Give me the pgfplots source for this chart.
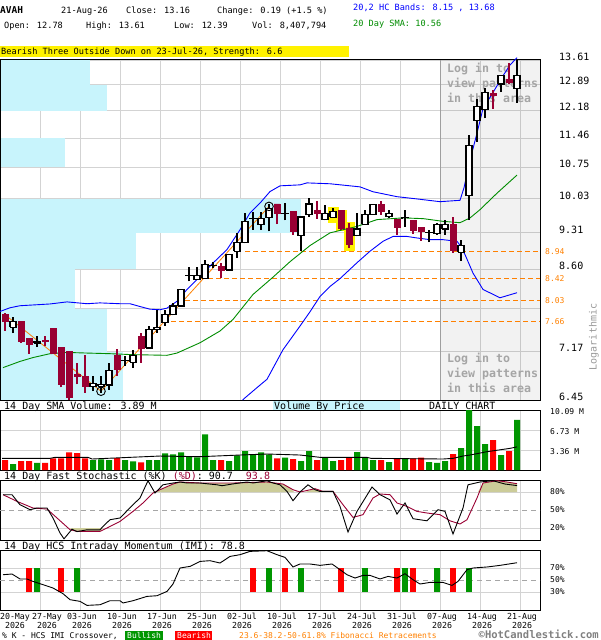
\documentclass[border=0pt]{standalone}
\usepackage{pgfplots}
\pgfplotsset{compat=1.18}
\usepackage{fontspec}
\setmainfont{DejaVu Sans Mono}
\definecolor{mar}{RGB}{153,0,51}
\definecolor{vbp}{RGB}{200,244,252}
\definecolor{fib}{RGB}{255,128,0}
\definecolor{grd}{RGB}{211,211,211}
\definecolor{vgreen}{RGB}{0,150,0}
\definecolor{khaki}{RGB}{204,204,153}
\definecolor{hcblue}{RGB}{0,0,255}
\definecolor{smagreen}{RGB}{0,140,0}
\definecolor{logtxt}{RGB}{165,165,165}
\newcommand\fs[2]{\fontsize{#1}{#2}\selectfont}
\newcommand\cdl[5]{%
  \pgfmathsetmacro\xa{#1-3}\pgfmathsetmacro\xb{#1+3}%
  \ifdim #5pt<#2pt
    \edef\cdltmp{\noexpand\addplot[draw=mar,line width=1.1pt] coordinates {(#1,#4) (#1,#3)};%
      \noexpand\addplot[draw=mar,fill=mar,line width=0.8pt] coordinates {(\xa,#2) (\xb,#2) (\xb,#5) (\xa,#5) (\xa,#2)};}%
  \else
    \edef\cdltmp{\noexpand\addplot[draw=black,line width=1.1pt] coordinates {(#1,#4) (#1,#3)};%
      \noexpand\addplot[draw=black,fill=white,line width=1.1pt] coordinates {(\xa,#2) (\xb,#2) (\xb,#5) (\xa,#5) (\xa,#2)};}%
  \fi
  \cdltmp}
\pgfplotsset{panel/.style={anchor=north west, scale only axis, width=540pt, xmin=0, xmax=540,
  axis line style={black,line width=1pt}, xtick={40,80,...,520}, xticklabels={},
  major tick length=0pt, tick style={draw=none}, grid=major,
  major grid style={draw=grd,line width=0.9pt}, yticklabel pos=right,
  yticklabel style={font=\fs{8}{9}, anchor=west, inner sep=0pt, xshift=10pt}}}
\begin{document}
\begin{tikzpicture}
\path[use as bounding box] (0pt,0pt) rectangle (600pt,-640pt);
% ---------------- main price panel
\begin{axis}[panel, at={(0pt,-60pt)}, height=340pt,
  ymode=log, ymin=6.45, ymax=13.61, clip=false,
  ytick={6.45,7.17,7.88,8.60,9.31,10.03,10.75,11.46,12.18,12.89,13.61},
  yticklabels={6.45,7.17,,8.60,9.31,10.03,10.75,11.46,12.18,12.89,13.61},
  yticklabel style={font=\fs{10}{12}, anchor=west, inner sep=0pt, xshift=9pt, yshift=3.5pt}]
% volume by price
\addplot[fill=vbp, draw=none] coordinates {(0,12.89) (90,12.89) (90,13.61) (0,13.61)};
\addplot[fill=vbp, draw=none] coordinates {(0,12.18) (107,12.18) (107,12.89) (0,12.89)};
\addplot[fill=vbp, draw=none] coordinates {(0,10.75) (65,10.75) (65,11.46) (0,11.46)};
\addplot[fill=vbp, draw=none] coordinates {(0,9.31) (301,9.31) (301,10.03) (0,10.03)};
\addplot[fill=vbp, draw=none] coordinates {(0,8.60) (136,8.60) (136,9.31) (0,9.31)};
\addplot[fill=vbp, draw=none] coordinates {(0,7.88) (75,7.88) (75,8.60) (0,8.60)};
\addplot[fill=vbp, draw=none] coordinates {(0,7.17) (107,7.17) (107,7.88) (0,7.88)};
\addplot[fill=vbp, draw=none] coordinates {(0,6.45) (123,6.45) (123,7.17) (0,7.17)};
\addplot[black, line width=1pt] coordinates {(0,6.45) (0,13.61)};
% pattern area
\addplot[fill=black, fill opacity=0.05, draw=none] coordinates {(440,6.45) (540,6.45) (540,13.61) (440,13.61)};
\addplot[draw=gray!75, line width=1pt] coordinates {(440,6.45) (440,13.61)};
\node[anchor=west, inner sep=0pt, align=left, text=logtxt, font=\bfseries\fs{11.6}{15}] at (axis cs:447,12.95) {Log in to\\view patterns\\in this area};
\node[anchor=west, inner sep=0pt, align=left, text=logtxt, font=\bfseries\fs{11.6}{15}] at (axis cs:447,6.84) {Log in to\\view patterns\\in this area};
% fibonacci
\addplot[fib, dashed, dash pattern=on 5pt off 3pt, line width=1pt] coordinates {(245,8.94) (540,8.94)};
\addplot[fib, dashed, dash pattern=on 5pt off 3pt, line width=1pt] coordinates {(200,8.42) (540,8.42)};
\addplot[fib, dashed, dash pattern=on 5pt off 3pt, line width=1pt] coordinates {(177,8.03) (540,8.03)};
\addplot[fib, dashed, dash pattern=on 5pt off 3pt, line width=1pt] coordinates {(163,7.66) (540,7.66)};
\addplot[fib, line width=0.8pt] coordinates {(5,7.78) (101,6.575) (269,9.867)};
\node[anchor=west, inner sep=0pt, text=fib, font=\fs{8}{9}] at (axis cs:545,8.94) {8.94};
\node[anchor=west, inner sep=0pt, text=fib, font=\fs{8}{9}] at (axis cs:545,8.42) {8.42};
\node[anchor=west, inner sep=0pt, text=fib, font=\fs{8}{9}] at (axis cs:545,8.03) {8.03};
\node[anchor=west, inner sep=0pt, text=fib, font=\fs{8}{9}] at (axis cs:545,7.66) {7.66};
% pattern highlight
\addplot[fill=yellow, draw=none] coordinates {(327.5,9.52) (338.5,9.52) (338.5,9.86) (327.5,9.86)};
\addplot[fill=yellow, draw=none] coordinates {(335.5,9.35) (346.5,9.35) (346.5,9.80) (335.5,9.80)};
\addplot[fill=yellow, draw=none] coordinates {(343.5,8.95) (354.5,8.95) (354.5,9.54) (343.5,9.54)};
% bands and SMA
\addplot[hcblue, line width=0.9pt] coordinates {(0,7.835) (10,7.898) (20,7.934) (50,7.965) (67,8.00) (87,7.97) (100,7.983) (120,7.97) (130,7.97) (140,7.92) (150,7.875) (160,7.864) (167,7.893) (177,8.011) (187,8.222) (200,8.461) (213,8.713) (227,8.975) (240,9.373) (250,9.727) (260,9.939) (270,10.194) (280,10.323) (300,10.345) (307,10.39) (330,10.37) (360,10.30) (373,10.19) (397,10.08) (417,10.03) (440,9.97) (460,10.0) (464,10.28) (470,10.92) (477,11.59) (483,12.235) (493,12.67) (502,13.10) (510,13.46) (517,13.68)};
\addplot[hcblue, line width=0.9pt] coordinates {(242.6,6.45) (245,6.48) (256,6.615) (267,6.75) (283,7.203) (300,7.588) (310,7.83) (320,8.096) (330,8.276) (340,8.42) (357,8.719) (370,8.942) (383,9.139) (393,9.237) (407,9.237) (417,9.206) (430,9.172) (443,9.172) (457,9.139) (461,9.034) (465,8.877) (473,8.523) (483,8.222) (500,8.073) (517,8.163)};
\addplot[smagreen, line width=0.9pt] coordinates {(3,6.925) (20,7.02) (33,7.08) (50,7.14) (67,7.16) (87,7.15) (110,7.14) (133,7.125) (167,7.115) (177,7.15) (200,7.314) (220,7.505) (233,7.699) (253,8.132) (273,8.447) (290,8.739) (310,9.054) (330,9.31) (357,9.443) (377,9.585) (403,9.621) (423,9.606) (443,9.549) (460,9.52) (470,9.62) (480,9.797) (497,10.158) (517,10.57)};
% candles: x, open, high, low, close
\cdl{5}{7.78}{7.80}{7.51}{7.67}
\cdl{13}{7.57}{7.74}{7.47}{7.67}
\cdl{21}{7.66}{7.67}{7.31}{7.34}
\cdl{29}{7.38}{7.39}{7.14}{7.29}
\cdl{37}{7.31}{7.42}{7.25}{7.34}
\cdl{45}{7.35}{7.42}{7.26}{7.33}
\cdl{53}{7.55}{7.56}{7.13}{7.15}
\cdl{61}{7.24}{7.25}{6.63}{6.675}
\cdl{69}{7.17}{7.19}{6.45}{6.48}
\cdl{77}{6.825}{7.00}{6.675}{6.79}
\cdl{85}{6.79}{7.125}{6.55}{6.645}
\cdl{93}{6.64}{6.80}{6.575}{6.69}
\cdl{101}{6.65}{6.80}{6.55}{6.675}
\cdl{109}{6.665}{7.00}{6.60}{6.885}
\cdl{117}{7.11}{7.21}{6.80}{6.90}
\cdl{125}{7.03}{7.11}{6.95}{7.035}
\cdl{133}{7.01}{7.20}{6.925}{7.11}
\cdl{141}{7.41}{7.48}{7.00}{7.23}
\cdl{149}{7.23}{7.59}{7.22}{7.53}
\cdl{157}{7.53}{7.86}{7.47}{7.57}
\cdl{165}{7.64}{7.86}{7.59}{7.79}
\cdl{173}{7.78}{7.98}{7.77}{7.93}
\cdl{181}{7.93}{8.23}{7.92}{8.22}
\cdl{189}{8.48}{8.63}{8.37}{8.485}
\cdl{197}{8.40}{8.64}{8.39}{8.48}
\cdl{205}{8.43}{8.78}{8.42}{8.68}
\cdl{213}{8.66}{8.74}{8.61}{8.67}
\cdl{221}{8.65}{8.71}{8.43}{8.57}
\cdl{229}{8.58}{8.89}{8.57}{8.88}
\cdl{237}{8.94}{9.30}{8.81}{9.12}
\cdl{245}{9.11}{9.73}{9.10}{9.54}
\cdl{253}{9.61}{9.75}{9.37}{9.615}
\cdl{261}{9.48}{9.75}{9.37}{9.61}
\cdl{269}{9.62}{9.92}{9.34}{9.83}
\cdl{277}{9.92}{9.93}{9.49}{9.71}
\cdl{285}{9.71}{9.94}{9.57}{9.72}
\cdl{293}{9.75}{9.76}{9.27}{9.34}
\cdl{301}{9.25}{9.65}{8.95}{9.64}
\cdl{309}{9.69}{10.05}{9.65}{9.92}
\cdl{317}{9.78}{9.99}{9.60}{9.71}
\cdl{325}{9.58}{9.90}{9.57}{9.71}
\cdl{333}{9.63}{9.83}{9.62}{9.75}
\cdl{341}{9.78}{9.79}{9.37}{9.41}
\cdl{349}{9.41}{9.51}{9.01}{9.07}
\cdl{357}{9.25}{9.73}{9.24}{9.39}
\cdl{365}{9.49}{9.80}{9.48}{9.69}
\cdl{373}{9.69}{9.92}{9.68}{9.90}
\cdl{381}{9.90}{9.99}{9.69}{9.75}
\cdl{389}{9.65}{9.80}{9.62}{9.71}
\cdl{397}{9.58}{9.59}{9.27}{9.42}
\cdl{405}{9.62}{9.78}{9.44}{9.625}
\cdl{413}{9.56}{9.57}{9.29}{9.36}
\cdl{421}{9.42}{9.43}{9.15}{9.34}
\cdl{429}{9.31}{9.37}{9.12}{9.32}
\cdl{437}{9.29}{9.52}{9.27}{9.49}
\cdl{445}{9.39}{9.57}{9.27}{9.49}
\cdl{453}{9.48}{9.65}{8.91}{8.95}
\cdl{461}{8.92}{9.17}{8.76}{9.06}
\cdl{469}{10.10}{11.54}{9.58}{11.27}
\cdl{477}{11.905}{12.50}{11.37}{12.30}
\cdl{485}{12.20}{12.80}{11.97}{12.68}
\cdl{493}{12.65}{12.75}{12.23}{12.60}
\cdl{501}{12.91}{13.17}{12.68}{13.16}
\cdl{509}{13.03}{13.53}{12.91}{12.97}
\cdl{517}{12.78}{13.61}{12.39}{13.16}
\addplot[only marks, mark=o, mark size=4.3pt, black, mark options={line width=0.9pt}] coordinates {(101,6.575) (269,9.867)};
\end{axis}
% ---------------- volume panel
\begin{axis}[panel, at={(0pt,-410pt)}, height=60pt, ymin=0, ymax=10.09,
  ytick={3.36,6.73,10.09}, yticklabels={3.36 M,6.73 M,10.09 M},
  yticklabel style={yshift=-1.5pt}]
\addplot[ybar, bar width=6, bar shift=0pt, fill=red, draw=none] coordinates {(5,1.68) (21,1.51) (29,1.51) (45,1.18) (53,1.96) (61,1.96) (69,2.97) (77,2.86) (85,1.96) (117,2.0) (141,1.29) (221,1.68) (277,1.96) (293,1.85) (317,1.68) (341,1.68) (349,2.13) (381,1.68) (397,1.96) (413,1.96) (421,2.07) (453,2.69) (493,5.04) (509,3.19)};
\addplot[ybar, bar width=6, bar shift=0pt, fill=vgreen, draw=none] coordinates {(13,1.0) (37,1.18) (93,1.68) (101,1.79) (109,1.68) (125,1.68) (133,1.46) (149,1.68) (157,1.68) (165,2.80) (173,2.63) (181,2.97) (189,2.30) (197,2.13) (205,6.0) (213,1.68) (229,1.51) (237,2.47) (245,3.19) (253,2.69) (261,2.97) (269,2.63) (285,2.07) (301,1.51) (309,3.19) (325,2.13) (333,1.51) (357,3.02) (365,2.07) (373,1.68) (389,1.34) (405,1.96) (429,1.34) (437,1.18) (445,1.51) (461,3.70) (469,10.09) (477,7.39) (485,4.37) (501,2.52) (517,8.41)};
\addplot[black, line width=0.9pt] coordinates {(2,1.96) (50,1.96) (55,2.13) (88,2.13) (92,1.85) (160,2.35) (200,2.24) (240,2.52) (267,2.69) (300,2.52) (320,2.13) (367,2.13) (371,1.96) (443,1.85) (453,1.96) (463,2.35) (470,2.52) (487,3.08) (510,3.64) (517,3.89)};
\end{axis}
% ---------------- stochastic panel
\begin{axis}[panel, at={(0pt,-480pt)}, height=60pt, ymin=0, ymax=100,
  ytick={20,80}, yticklabels={20\%,80\%},
  extra y ticks={50}, extra y tick labels={50\%},
  extra y tick style={major grid style={draw=gray!70, dash pattern=on 5pt off 4pt, line width=0.9pt}}]
\addplot[fill=khaki, draw=none] coordinates {(157,80) (160,83.8) (173,93.3) (180,96.7) (200,95) (233,95) (267,96.7) (283,93.3) (290,87) (294,80)};
\addplot[fill=khaki, draw=none] coordinates {(305,80) (315,85.5) (323,81) (325,80)};
\addplot[fill=khaki, draw=none] coordinates {(478,80) (483,95) (497,98.8) (507,96.7) (517,93.8) (517,80)};
\addplot[fill=khaki, draw=none] coordinates {(70,20) (72,17) (77,14.4) (100,14.4) (103,20)};
\addplot[mar, line width=0.9pt] coordinates {(3,75.5) (17,64.4) (33,53.3) (47,51.6) (57,36.7) (70,17.2) (77,14.4) (100,14.4) (107,20) (120,31) (133,47.7) (143,61.7) (153,78.3) (160,83.8) (173,93.3) (180,96.7) (200,95) (233,95) (267,96.7) (283,93.3) (293,83.8) (300,80) (315,85.5) (323,81) (333,81) (343,58.8) (353,37.7) (363,42.2) (373,70) (380,76.7) (390,75.5) (397,61.7) (407,56) (417,47.7) (427,45) (440,42.2) (450,32) (460,26.7) (467,33.8) (477,70) (483,95) (497,98.8) (507,96.7) (517,93.8)};
\addplot[black, line width=0.9pt] coordinates {(3,75.5) (12,75.5) (20,58.8) (30,50.5) (37,53.3) (47,53.3) (53,36.7) (60,11.7) (64,2) (72,18) (77,14) (87,17) (100,17) (103,22.7) (110,33.8) (120,36.7) (133,58.8) (140,70) (148,98.8) (155,78.3) (163,92) (173,95) (180,96.7) (187,95) (200,95) (217,92) (222,90.5) (233,93.5) (247,96.7) (253,95) (267,98.8) (273,95) (280,92) (287,81) (293,65.5) (300,80) (308,92) (315,83.8) (320,81) (333,81) (340,56) (348,13.3) (357,47.7) (372,88.3) (380,75.5) (390,67) (397,43.3) (405,61.7) (413,35.5) (427,32) (438,50.5) (445,47.7) (453,10) (463,53.3) (468,92) (480,96.7) (493,98.8) (505,93.3) (517,90.7)};
\end{axis}
% ---------------- IMI panel
\begin{axis}[panel, at={(0pt,-550pt)}, height=60pt, ymin=0, ymax=100,
  ytick={30,70}, yticklabels={30\%,70\%},
  extra y ticks={50}, extra y tick labels={50\%},
  extra y tick style={major grid style={draw=gray!70, dash pattern=on 5pt off 4pt, line width=0.9pt}},
  extra x ticks={15,47,82,122,162,202,242,282,322,362,402,442,482,522},
  extra x tick labels={{20-May\\2026},{27-May\\2026},{03-Jun\\2026},{10-Jun\\2026},{17-Jun\\2026},{25-Jun\\2026},{02-Jul\\2026},{10-Jul\\2026},{17-Jul\\2026},{24-Jul\\2026},{31-Jul\\2026},{07-Aug\\2026},{14-Aug\\2026},{21-Aug\\2026}},
  extra x tick style={grid=none},
  xticklabel style={align=center, font=\fs{8.3}{9}}]
\addplot[red, line width=6pt, unbounded coords=jump] coordinates {(29,30) (29,70) (29,nan) (61,30) (61,70) (61,nan) (253,30) (253,70) (253,nan) (285,30) (285,70) (285,nan) (341,30) (341,70) (341,nan) (397,30) (397,70) (397,nan) (413,30) (413,70) (413,nan) (453,30) (453,70)};
\addplot[vgreen, line width=6pt, unbounded coords=jump] coordinates {(37,30) (37,70) (37,nan) (77,30) (77,70) (77,nan) (269,30) (269,70) (269,nan) (301,30) (301,70) (301,nan) (365,30) (365,70) (365,nan) (405,30) (405,70) (405,nan) (437,30) (437,70) (437,nan) (469,30) (469,70)};
\addplot[black, line width=0.9pt] coordinates {(3,58.8) (12,60) (20,51.7) (27,51.7) (33,47.7) (43,42.2) (53,36.7) (63,27.2) (70,17.2) (80,14.4) (87,7.7) (100,8.8) (110,15.5) (120,15.5) (123,11.7) (133,15.5) (147,22.7) (157,23.8) (167,31) (173,43.3) (180,70) (190,72.7) (200,81) (210,82.2) (220,78.3) (230,89.3) (240,92.2) (250,97.7) (267,98.8) (277,92.2) (285,87.7) (293,71.7) (300,76.7) (310,76.7) (320,74.4) (332,76.7) (340,67.2) (347,58.8) (355,53.3) (363,57.7) (370,57.7) (380,51.7) (388,56) (397,53.3) (405,60.5) (413,50.5) (420,43.3) (430,46) (443,46) (452,41) (458,47.7) (467,67.2) (473,70) (487,71.7) (500,74.4) (517,78.8)};
\end{axis}
% ---------------- texts
\node[anchor=base west, inner sep=0pt, font=\bfseries\fs{9.5}{11}] at (0pt,-13pt) {AVAH};
\node[anchor=base west, inner sep=0pt, font=\fs{8.6}{10}] at (61pt,-13pt) {21-Aug-26};
\node[anchor=base west, inner sep=0pt, font=\fs{8.6}{10}] at (126pt,-13pt) {Close: 13.16};
\node[anchor=base west, inner sep=0pt, font=\fs{8.6}{10}] at (217pt,-13pt) {Change: 0.19 (+1.5 \%)};
\node[anchor=base west, inner sep=0pt, font=\fs{8.6}{10}] at (4pt,-28pt) {Open: 12.78};
\node[anchor=base west, inner sep=0pt, font=\fs{8.6}{10}] at (86pt,-28pt) {High: 13.61};
\node[anchor=base west, inner sep=0pt, font=\fs{8.6}{10}] at (174pt,-28pt) {Low: 12.39};
\node[anchor=base west, inner sep=0pt, font=\fs{8.6}{10}] at (252pt,-28pt) {Vol: 8,407,794};
\node[anchor=base west, inner sep=0pt, font=\fs{8.6}{10}, text=hcblue] at (353pt,-10.5pt) {20,2 HC Bands: 8.15 , 13.68};
\node[anchor=base west, inner sep=0pt, font=\fs{8.6}{10}, text=smagreen] at (353pt,-26pt) {20 Day SMA: 10.56};
\fill[yellow] (0pt,-45.7pt) rectangle (349pt,-56.7pt);
\node[anchor=base west, inner sep=0pt, font=\fs{8.6}{10}] at (1pt,-54.6pt) {Bearish Three Outside Down on 23-Jul-26, Strength: 6.6};
\node[rotate=90, inner sep=0pt, font=\fs{10}{12}, text=gray!80] at (594pt,-337pt) {Logarithmic};
% panel headers
\fill[vbp] (273pt,-400.5pt) rectangle (400pt,-410pt);
\node[anchor=base west, inner sep=0pt, font=\fs{10}{12}] at (4pt,-409pt) {14 Day SMA Volume: 3.89 M};
\node[anchor=base west, inner sep=0pt, font=\fs{10}{12}] at (274pt,-409pt) {Volume By Price};
\node[anchor=base west, inner sep=0pt, font=\fs{10}{12}] at (429pt,-409pt) {DAILY CHART};
\node[anchor=base west, inner sep=0pt, font=\fs{10}{12}] at (4pt,-479.5pt) {14 Day Fast Stochastic (\%K) \textcolor{mar}{(\%D)}: 90.7\hspace*{13pt}\textcolor{mar}{93.8}};
\node[anchor=base west, inner sep=0pt, font=\fs{10}{12}] at (4pt,-549.5pt) {14 Day HCS Intraday Momentum (IMI): 78.8};
% footer
\node[anchor=base west, inner sep=0pt, font=\fs{8}{9}] at (2pt,-638pt) {\% K - HCS IMI Crossover,};
\fill[vgreen] (125pt,-630.7pt) rectangle (163pt,-640pt);
\node[anchor=base west, inner sep=0pt, font=\fs{8}{9}, text=white] at (127pt,-638pt) {Bullish};
\fill[red] (175pt,-630.7pt) rectangle (212pt,-640pt);
\node[anchor=base west, inner sep=0pt, font=\fs{8}{9}, text=white] at (177pt,-638pt) {Bearish};
\node[anchor=base west, inner sep=0pt, font=\fs{8}{9}, text=fib] at (239pt,-638pt) {23.6-38.2-50-61.8\% Fibonacci Retracements};
\node[anchor=base east, inner sep=0pt, font=\bfseries\fs{10.5}{12}, text=gray] at (599pt,-638.5pt) {©HotCandlestick.com};
\end{tikzpicture}
\end{document}
